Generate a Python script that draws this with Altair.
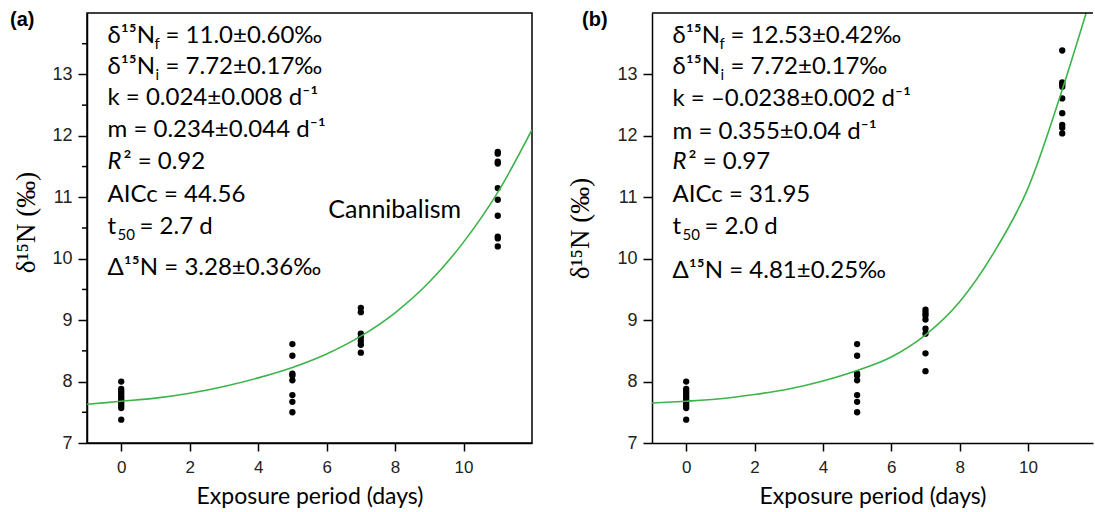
import altair as alt
import pandas as pd

# ---------------- data ----------------
DAYS = [0, 5, 7, 11]

a_day0 = [8.00, 7.88, 7.84, 7.80, 7.76, 7.72, 7.69, 7.65, 7.61, 7.57, 7.38]
a_day5 = [8.61, 8.42, 8.13, 8.10, 8.02, 7.78, 7.67, 7.50]
a_day7 = [9.20, 9.13, 8.78, 8.72, 8.66, 8.60, 8.47]
a_day11 = [11.74, 11.71, 11.58, 11.55, 11.15, 10.96, 10.70, 10.36, 10.33, 10.20]

b_day0 = [8.00, 7.88, 7.84, 7.80, 7.76, 7.72, 7.69, 7.65, 7.61, 7.57, 7.38]
b_day5 = [8.61, 8.42, 8.13, 8.10, 8.02, 7.78, 7.67, 7.50]
b_day7 = [9.17, 9.12, 9.08, 9.01, 8.86, 8.78, 8.46, 8.17]
b_day11 = [13.39, 12.87, 12.84, 12.80, 12.61, 12.37, 12.18, 12.13, 12.04]

curve_t_a = [-1, 0, 1, 2, 3, 4, 5, 6, 7, 8, 9, 10, 11, 12]
curve_a = [7.63, 7.68, 7.73, 7.81, 7.92, 8.06, 8.23, 8.45, 8.74, 9.12, 9.62, 10.27, 11.08, 12.10]

curve_t_b = [-1, 0, 1, 2, 3, 4, 5, 6, 7, 8, 9, 10, 11, 11.7]
curve_b = [7.65, 7.68, 7.72, 7.79, 7.88, 8.01, 8.18, 8.40, 8.76, 9.30, 10.10, 11.15, 12.75, 14.0]

X_TICKS = [0, 2, 4, 6, 8, 10]
Y_TICKS = [7, 8, 9, 10, 11, 12, 13]
Y_MINOR = [7.5, 8.5, 9.5, 10.5, 11.5, 12.5, 13.5]

# annotation text
ann_a = {
    "nf": "= 11.0±0.60‰", "ni": "= 7.72±0.17‰",
    "k": "k = 0.024±0.008 d⁻¹", "m": "m = 0.234±0.044 d⁻¹",
    "r2": "² = 0.92", "aic": "AICc = 44.56", "t50": "= 2.7 d",
    "delta": "Δ¹⁵N = 3.28±0.36‰",
}
ann_b = {
    "nf": "= 12.53±0.42‰", "ni": "= 7.72±0.17‰",
    "k": "k = –0.0238±0.002 d⁻¹", "m": "m = 0.355±0.04 d⁻¹",
    "r2": "² = 0.97", "aic": "AICc = 31.95", "t50": "= 2.0 d",
    "delta": "Δ¹⁵N = 4.81±0.25‰",
}

# ---------------- style ----------------
GREEN = "#3db34a"
TXT_FONT = "Lato, 'Noto Sans', sans-serif"
LBL_FONT = "'Liberation Sans', Arial, sans-serif"
SERIF = "'Liberation Serif', 'DejaVu Serif', serif"
TXT_SIZE = 24
SUB_SIZE = 15
PLOT_H = 430


def points_df(cols):
    rows = []
    for d, vals in zip(DAYS, cols):
        for v in vals:
            rows.append({"x": d, "y": v})
    return pd.DataFrame(rows)


def seg(x, y, text, dx=0, dy=0, size=TXT_SIZE, style="normal"):
    return alt.Chart(pd.DataFrame({"x": [x], "y": [y], "t": [text]})).mark_text(
        align="left", baseline="middle", dx=dx, dy=dy, fontSize=size,
        font=TXT_FONT, fontStyle=style, color="black"
    ).encode(x="x:Q", y="y:Q", text="t:N")


def annotations(ann, line_y, x0=-0.4):
    l1, l2, l3, l4, l5, l6, l7, l8 = line_y
    return [
        seg(x0, l1, "δ¹⁵N"), seg(x0, l1, "f", dx=47, dy=8, size=SUB_SIZE), seg(x0, l1, ann["nf"], dx=58),
        seg(x0, l2, "δ¹⁵N"), seg(x0, l2, "i", dx=48, dy=8, size=SUB_SIZE), seg(x0, l2, ann["ni"], dx=58),
        seg(x0, l3, ann["k"]),
        seg(x0, l4, ann["m"]),
        seg(x0, l5, "R", style="italic"), seg(x0, l5, ann["r2"], dx=16),
        seg(x0, l6, ann["aic"]),
        seg(x0, l7, "t"), seg(x0, l7, "50", dx=10, dy=8, size=SUB_SIZE), seg(x0, l7, ann["t50"], dx=32),
        seg(x0, l8, ann["delta"]),
    ]


def panel(pts, ct, cv, ann, line_y, label, xmax, width, title_pad, title_y,
          label_x, frame, minor, extra=None):
    xs = alt.Scale(domain=[-1, xmax], nice=False, zero=False)
    ys = alt.Scale(domain=[7, 14], nice=False, zero=False)
    xaxis = alt.Axis(
        values=X_TICKS, format="d", tickSize=8, tickWidth=1.5, tickColor="black",
        domainColor="black", domainWidth=1.5, grid=False,
        labelFont=LBL_FONT, labelFontSize=17, labelColor="#222", labelPadding=8,
        title="Exposure period (days)", titleFont=TXT_FONT, titleFontSize=23,
        titleFontWeight="normal", titleColor="black", titlePadding=10,
    )
    yaxis = alt.Axis(
        values=Y_TICKS, format="d", tickSize=9, tickWidth=1.5, tickColor="black",
        domainColor="black", domainWidth=1.5, grid=False,
        labelFont=LBL_FONT, labelFontSize=18, labelColor="#222", labelPadding=6,
        title="δ¹⁵N (‰)", titleFont=SERIF, titleFontSize=27,
        titleFontWeight="normal", titleColor="black", titlePadding=title_pad,
        titleY=title_y,
    )
    base = alt.Chart(pts).mark_circle(size=40, color="black", opacity=1).encode(
        x=alt.X("x:Q", scale=xs, axis=xaxis), y=alt.Y("y:Q", scale=ys, axis=yaxis)
    )
    line = alt.Chart(pd.DataFrame({"x": ct, "y": cv})).mark_line(
        color=GREEN, strokeWidth=1.6, clip=True, interpolate="monotone"
    ).encode(x="x:Q", y="y:Q")
    lab = alt.Chart(pd.DataFrame({"t": [label]})).mark_text(
        align="left", baseline="middle", font=LBL_FONT, fontSize=20,
        fontWeight="bold", color="black"
    ).encode(x=alt.value(label_x), y=alt.value(7), text="t:N")
    layers = [base, line] + annotations(ann, line_y) + [lab]
    if minor:
        layers.append(
            alt.Chart(pd.DataFrame({"y": Y_MINOR})).mark_rule(color="black", strokeWidth=1.5)
            .encode(y="y:Q", x=alt.value(-5), x2=alt.value(0))
        )
    if extra is not None:
        layers += extra
    view = (alt.ViewBackground(stroke="black", strokeWidth=1.5) if frame
            else alt.ViewBackground(stroke="transparent"))
    return alt.layer(*layers).properties(width=width, height=PLOT_H, view=view)


pa = panel(
    points_df([a_day0, a_day5, a_day7, a_day11]), curve_t_a, curve_a, ann_a,
    [13.63, 13.12, 12.62, 12.09, 11.57, 11.04, 10.51, 9.85],
    "(a)", 12, 445, 11, 209, -77, True, True,
    extra=[alt.Chart(pd.DataFrame({"x": [6.05], "y": [10.8], "t": ["Cannibalism"]}))
           .mark_text(align="left", baseline="middle", fontSize=25, font=TXT_FONT, color="black")
           .encode(x="x:Q", y="y:Q", text="t:N")],
)

top_rule = alt.Chart(pd.DataFrame({"y": [14]})).mark_rule(color="black", strokeWidth=1.5).encode(y="y:Q")

pb = panel(
    points_df([b_day0, b_day5, b_day7, b_day11]), curve_t_b, curve_b, ann_b,
    [13.63, 13.12, 12.60, 12.07, 11.57, 11.03, 10.51, 9.80],
    "(b)", 11.9, 441, 22, 215, -70, False, False, extra=[top_rule],
)

chart = alt.hconcat(pa, pb, spacing=120, bounds="flush").properties(
    padding={"left": 9, "top": 9, "right": 0, "bottom": 0}
).configure_view(strokeWidth=1.5)

chart.save("out.html", embed_options={"renderer": "svg", "actions": False})
